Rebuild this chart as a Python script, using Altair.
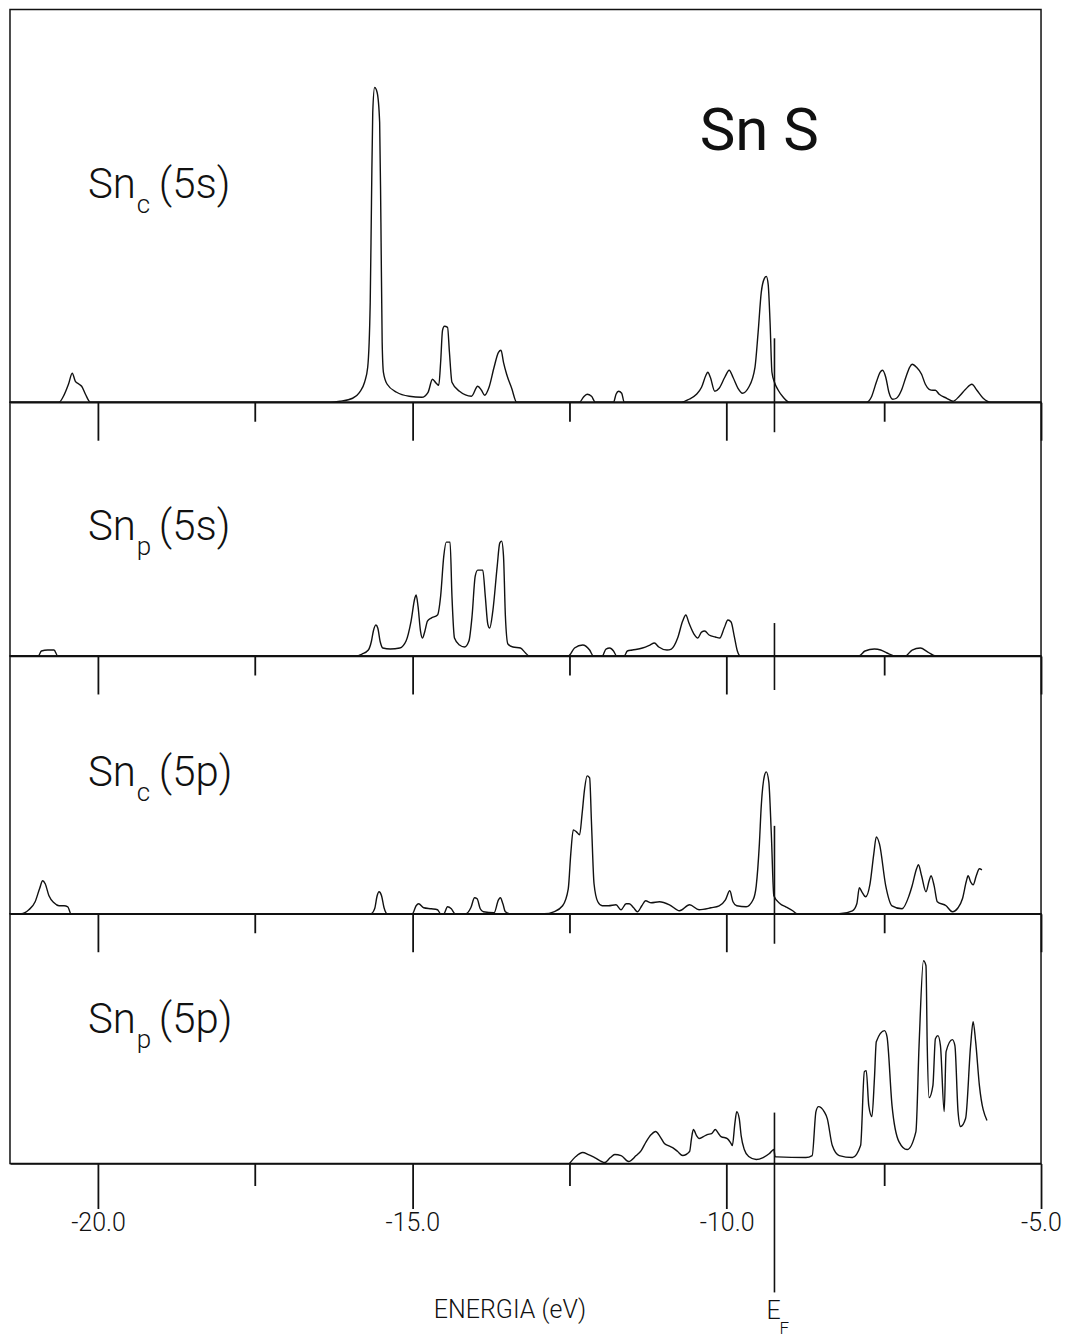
import altair as alt
import pandas as pd

# ---------------- data ----------------
E_F = -9.24
X_DOMAIN = [-21.4, -5.0]
TICK_VALUES = [-20.0, -17.5, -15.0, -12.5, -10.0, -7.5, -5.0]

# Sn_c(5s)
snc5s_e = [-21.40, -20.62, -20.55, -20.47, -20.41, -20.36, -20.30, -20.26, -20.20, -20.12,
           -16.30, -16.15, -15.95, -15.84, -15.76, -15.71, -15.67, -15.65, -15.63, -15.60,
           -15.56, -15.52, -15.50, -15.48, -15.46, -15.40, -15.25, -15.05, -14.85, -14.75,
           -14.68, -14.62, -14.58, -14.55, -14.52, -14.49, -14.44, -14.41, -14.37, -14.25,
           -14.06, -13.96, -13.90, -13.85, -13.78, -13.70, -13.63, -13.59, -13.55, -13.50,
           -13.42, -13.34,
           -12.40, -12.34, -12.28, -12.22, -12.15, -12.09,
           -11.80, -11.76, -11.72, -11.67, -11.63,
           -10.72, -10.60, -10.48, -10.40, -10.33, -10.30, -10.26, -10.19, -10.12, -10.03,
           -9.96, -9.90, -9.82, -9.75, -9.65, -9.55, -9.50, -9.45, -9.40, -9.37,
           -9.34, -9.31, -9.28, -9.24, -9.18, -9.10, -9.00,
           -7.78, -7.70, -7.62, -7.56, -7.52, -7.47, -7.42, -7.36, -7.30, -7.22,
           -7.15, -7.09, -7.05, -6.98, -6.90, -6.84, -6.78, -6.72, -6.68, -6.62,
           -6.50, -6.40, -6.30, -6.20, -6.10, -6.02, -5.92, -5.80, -5.00]
snc5s_d = [0, 0, 6, 18, 29, 21, 18, 16, 8, 0,
           0, 1, 4, 10, 20, 35, 100, 200, 290, 315,
           310, 280, 180, 60, 30, 18, 10, 6, 5, 10,
           23, 19, 17, 40, 72, 76, 75, 50, 20, 11,
           6, 16, 12, 7, 15, 35, 50, 52, 40, 28,
           14, 0,
           0, 0, 5, 8, 6, 0,
           0, 8, 11, 9, 0,
           0, 3, 8, 15, 27, 30, 25, 11, 14, 25,
           32, 25, 14, 9, 15, 35, 70, 110, 124, 126,
           118, 80, 30, 20, 12, 5, 0,
           0, 5, 20, 30, 32, 25, 10, 3, 4, 12,
           25, 35, 38, 35, 28, 18, 13, 12, 12, 8,
           4, 1, 6, 13, 18, 12, 4, 0, 0]

# Sn_p(5s)
snp5s_e = [-21.40, -20.95, -20.90, -20.80, -20.70, -20.64,
           -15.90, -15.80, -15.70, -15.65, -15.62, -15.58, -15.55, -15.51, -15.47, -15.35,
           -15.20, -15.10, -15.02, -14.96, -14.94, -14.91, -14.87, -14.84, -14.80, -14.76,
           -14.70, -14.60, -14.55, -14.50, -14.46, -14.40, -14.37, -14.33, -14.25, -14.17,
           -14.10, -14.05, -14.00, -13.96, -13.88, -13.84, -13.80, -13.77, -13.72, -13.65,
           -13.61, -13.58, -13.55, -13.52, -13.48, -13.40, -13.28, -13.20, -13.14,
           -12.52, -12.42, -12.29, -12.18, -12.12,
           -11.98, -11.92, -11.86, -11.80, -11.75,
           -11.63, -11.58, -11.50, -11.34, -11.22, -11.15, -11.08, -10.95, -10.88, -10.78,
           -10.70, -10.65, -10.60, -10.52, -10.46, -10.40, -10.35, -10.28, -10.18, -10.11,
           -10.04, -9.98, -9.93, -9.88, -9.83, -9.78,
           -7.90, -7.80, -7.65, -7.55, -7.45, -7.30,
           -7.16, -7.05, -6.92, -6.80, -6.67, -5.00]
snp5s_d = [0, 0, 5, 6, 6, 0,
           0, 2, 6, 15, 25, 31, 28, 14, 8, 7,
           8, 15, 35, 58, 61, 50, 25, 18, 25, 35,
           38, 41, 60, 100, 114, 114, 60, 18, 11, 9,
           15, 40, 80, 86, 86, 60, 32, 28, 45, 90,
           113, 115, 100, 40, 12, 9, 8, 3, 0,
           0, 8, 11, 6, 0,
           0, 7, 8, 5, 0,
           0, 5, 6, 8, 11, 13, 9, 6, 7, 18,
           35, 41, 33, 22, 18, 24, 25, 21, 19, 18,
           28, 36, 34, 20, 5, 0,
           0, 5, 7, 6, 3, 0,
           0, 6, 8, 4, 0, 0]

# Sn_c(5p)
snc5p_e = [-21.40, -21.22, -21.10, -21.00, -20.93, -20.88, -20.84, -20.78, -20.70, -20.62,
           -20.54, -20.48, -20.43,
           -15.66, -15.60, -15.56, -15.53, -15.49, -15.45, -15.40,
           -15.00, -14.94, -14.90, -14.82, -14.70, -14.60, -14.55,
           -14.50, -14.44, -14.38, -14.32,
           -14.15, -14.07, -14.01, -13.97, -13.92, -13.87,
           -13.70, -13.63, -13.60, -13.56, -13.52, -13.45,
           -12.90, -12.75, -12.61, -12.52, -12.48, -12.44, -12.39, -12.34, -12.30, -12.26,
           -12.22, -12.18, -12.15, -12.11, -12.05, -11.98, -11.88, -11.76, -11.68, -11.60,
           -11.55, -11.48, -11.42, -11.35, -11.29, -11.20, -11.07, -10.91, -10.75, -10.59,
           -10.44, -10.25, -10.12, -10.02, -9.95, -9.90, -9.84, -9.69, -9.58, -9.53,
           -9.48, -9.45, -9.40, -9.37, -9.33, -9.29, -9.25, -9.15, -9.06, -8.95, -8.88,
           -8.21, -8.00, -7.93, -7.89, -7.85, -7.79, -7.72, -7.66, -7.62, -7.57,
           -7.47, -7.37, -7.21, -7.10, -7.05, -6.98, -6.95, -6.90, -6.83, -6.78,
           -6.75, -6.70, -6.65, -6.51, -6.41, -6.32, -6.25, -6.19, -6.16, -6.12,
           -6.08, -6.03, -5.98, -5.94]
snc5p_d = [0, 0, 4, 12, 25, 33, 30, 18, 11, 8,
           8, 7, 0,
           0, 5, 18, 22, 18, 6, 0,
           0, 8, 10, 6, 5, 4, 0,
           0, 7, 5, 0,
           0, 6, 16, 15, 5, 2,
           1, 14, 16, 10, 2, 0,
           0, 2, 8, 25, 60, 84, 82, 79, 100, 125,
           138, 136, 90, 30, 12, 8, 8, 9, 4, 10,
           10, 6, 2, 8, 13, 11, 12, 9, 3, 9,
           4, 6, 8, 14, 23, 12, 8, 7, 14, 28,
           70, 108, 138, 142, 132, 80, 18, 10, 7, 3, 0,
           0, 3, 10, 26, 22, 17, 30, 60, 77, 70,
           28, 8, 5, 18, 28, 45, 49, 38, 22, 33,
           38, 28, 12, 8, 2, 6, 15, 32, 38, 32,
           29, 38, 45, 44]

# Sn_p(5p)
snp5p_e = [-12.50, -12.40, -12.29, -12.20, -12.10, -11.94, -11.85, -11.78, -11.68, -11.56,
           -11.44, -11.36, -11.28, -11.20, -11.13, -11.06, -10.99, -10.93, -10.86, -10.78,
           -10.70, -10.59, -10.56, -10.53, -10.48, -10.44, -10.37, -10.31, -10.24, -10.18,
           -10.13, -10.09, -9.99, -9.93, -9.91, -9.87, -9.84, -9.80, -9.77, -9.72,
           -9.65, -9.53, -9.42, -9.32, -9.25, -9.23, -9.20, -8.74, -8.64, -8.58,
           -8.54, -8.45, -8.40, -8.32, -8.21, -8.00, -7.87, -7.81, -7.78, -7.74,
           -7.69, -7.65, -7.62, -7.49, -7.45, -7.37, -7.26, -7.13, -6.99, -6.94,
           -6.87, -6.83, -6.81, -6.78, -6.72, -6.68, -6.64, -6.60, -6.54, -6.51,
           -6.41, -6.37, -6.32, -6.28, -6.20, -6.12, -6.08, -6.04, -5.98, -5.86]
snp5p_d = [0, 7, 11, 9, 6, 1, 6, 9, 8, 2,
           8, 13, 22, 29, 32, 27, 20, 18, 16, 12,
           8, 12, 25, 34, 28, 25, 27, 29, 30, 34,
           30, 27, 25, 20, 18, 40, 52, 45, 28, 14,
           7, 4, 6, 10, 14, 7, 6.7, 6, 8, 52,
           57, 52, 45, 18, 8, 6, 18, 92, 93, 58,
           47, 85, 122, 133, 127, 58, 22, 14, 32, 118,
           203, 198, 118, 66, 78, 125, 128, 118, 52, 112,
           124, 118, 52, 37, 45, 118, 142, 122, 78, 43]

PANEL_HEIGHTS = [393, 254, 258, 250]
WIDTH = 1032

FONT = "Roboto"
BLACK = "#111111"


def x_axis(bottom):
    major = 45 if bottom else 38
    minor = 22 if bottom else 19
    common = dict(
        values=TICK_VALUES,
        tickSize={"condition": {"test": "abs(datum.value % 5) < 0.01", "value": major},
                  "value": minor},
        tickWidth=1.8,
        tickColor=BLACK,
        domainColor=BLACK,
        domainWidth=1.5,
        grid=False,
    )
    if bottom:
        return alt.Axis(
            labels=True,
            labelExpr="abs(datum.value % 5) < 0.01 ? ((datum.value < 0 ? '-' : '') + format(abs(datum.value), '.1f')) : ''",
            labelFont=FONT,
            labelFontSize=25,
            labelFontWeight=300,
            labelColor=BLACK,
            labelPadding=2,
            labelFlush=False,
            labelOverlap=False,
            title="ENERGIA (eV)",
            titleFont=FONT,
            titleFontSize=25,
            titleFontWeight=300,
            titleColor=BLACK,
            titleX=500,
            titleY=154,
            titleAlign="center",
            titleBaseline="alphabetic",
            **common,
        )
    return alt.Axis(labels=False, title=None, **common)


def text_layer(t, x, y, size, weight=300, align="left"):
    return alt.Chart(pd.DataFrame({"t": [t]})).mark_text(
        align=align, baseline="alphabetic", font=FONT, fontSize=size,
        fontWeight=weight, color=BLACK,
    ).encode(x=alt.value(x), y=alt.value(y), text="t:N")


def panel(energy, dos, h, name, sub, orb, label_y, ef_up, ef_down, bottom=False, extra=()):
    df = pd.DataFrame({"E": energy, "DOS": dos})
    x = alt.X("E:Q", scale=alt.Scale(domain=X_DOMAIN, nice=False, zero=False),
              axis=x_axis(bottom))
    y = alt.Y("DOS:Q", scale=alt.Scale(domain=[0, h], nice=False, zero=True), axis=None)
    line = alt.Chart(df).mark_line(color=BLACK, strokeWidth=1.4,
                                   interpolate="monotone").encode(x=x, y=y)
    ef = alt.Chart(pd.DataFrame({"E": [E_F]})).mark_rule(
        color=BLACK, strokeWidth=1.6
    ).encode(x="E:Q", y=alt.value(h - ef_up), y2=alt.value(h + ef_down))
    labels = [
        text_layer(name, 78, label_y, 42),
        text_layer(sub, 127, label_y + 15, 26),
        text_layer(orb, 149, label_y, 42),
    ]
    return alt.layer(line, ef, *labels, *extra).properties(width=WIDTH, height=h)


title_layer = text_layer("Sn S", 750, 141, 60, weight=400, align="center")

ef_e = alt.Chart(pd.DataFrame({"t": ["E"], "E": [E_F]})).mark_text(
    align="left", baseline="alphabetic", font=FONT, fontSize=25, fontWeight=300,
    color=BLACK, dx=-8
).encode(x="E:Q", y=alt.value(PANEL_HEIGHTS[3] + 156), text="t:N")
ef_f = alt.Chart(pd.DataFrame({"t": ["F"], "E": [E_F]})).mark_text(
    align="left", baseline="alphabetic", font=FONT, fontSize=17, fontWeight=300,
    color=BLACK, dx=5
).encode(x="E:Q", y=alt.value(PANEL_HEIGHTS[3] + 171), text="t:N")

p1 = panel(snc5s_e, snc5s_d, PANEL_HEIGHTS[0], "Sn", "c", "(5s)", 189, 64, 30,
           extra=(title_layer,))
p2 = panel(snp5s_e, snp5s_d, PANEL_HEIGHTS[1], "Sn", "p", "(5s)", 138, 33, 34)
p3 = panel(snc5p_e, snc5p_d, PANEL_HEIGHTS[2], "Sn", "c", "(5p)", 130, 88, 30)
p4 = panel(snp5p_e, snp5p_d, PANEL_HEIGHTS[3], "Sn", "p", "(5p)", 119, 51, 129,
           bottom=True, extra=(ef_e, ef_f))

chart = alt.vconcat(p1, p2, p3, p4, spacing=0, bounds="flush").properties(
    padding={"left": 6, "top": 8, "right": 5, "bottom": 2},
    background="white",
).configure_view(stroke=BLACK, strokeWidth=1.5)

chart.save("out.html", embed_options={"renderer": "svg", "actions": False})
